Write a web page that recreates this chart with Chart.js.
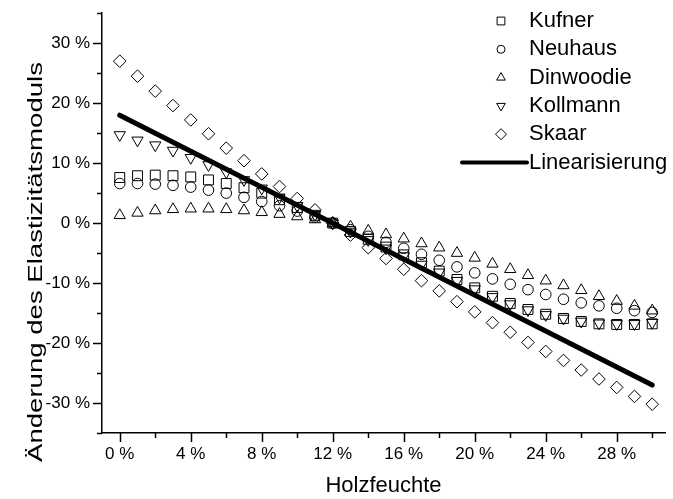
<!DOCTYPE html>
<html>
<head>
<meta charset="utf-8">
<script src="https://cdn.jsdelivr.net/npm/chart.js@4.4.1/dist/chart.umd.min.js"></script>
<style>
  html, body { margin: 0; padding: 0; background: #fff; }
  canvas { display: block; }
</style>
</head>
<body>
<canvas id="chart" width="673" height="499"></canvas>
<script>
// Holzfeuchte in %
const moisture = [0, 1, 2, 3, 4, 5, 6, 7, 8, 9, 10, 11, 12, 13, 14, 15, 16, 17, 18, 19, 20, 21, 22, 23, 24, 25, 26, 27, 28, 29, 30];

// Änderung des E-Moduls in %
const kufner = [7.6, 7.9, 8.0, 7.9, 7.7, 7.2, 6.6, 5.9, 5.0, 3.9, 2.6, 1.3, 0, -1.4, -2.7, -4.0, -5.3, -6.6, -8.0, -9.4, -10.8, -12.2, -13.4, -14.4, -15.2, -15.9, -16.4, -16.8, -16.9, -16.9, -16.8];
const neuhaus = [6.6, 6.6, 6.5, 6.3, 6.0, 5.5, 5.0, 4.3, 3.6, 2.9, 2.0, 1.0, 0, -1.1, -2.2, -3.2, -4.2, -5.2, -6.2, -7.3, -8.3, -9.3, -10.2, -11.1, -11.9, -12.7, -13.3, -13.8, -14.2, -14.6, -14.9];
const dinwoodie = [1.3, 1.7, 2.1, 2.3, 2.4, 2.4, 2.3, 2.1, 1.8, 1.5, 1.1, 0.6, 0, -0.6, -1.3, -1.9, -2.6, -3.4, -4.1, -5.0, -5.8, -6.8, -7.7, -8.7, -9.6, -10.4, -11.2, -12.2, -13.0, -13.8, -14.6];
const kollmann = [14.7, 13.8, 13.0, 12.1, 10.9, 9.7, 8.5, 7.2, 5.8, 4.3, 2.9, 1.4, 0, -1.4, -2.8, -4.2, -5.5, -6.9, -8.2, -9.6, -11.0, -12.3, -13.5, -14.5, -15.3, -15.9, -16.4, -16.7, -16.8, -16.8, -16.6];
const skaar = [27.0, 24.5, 22.0, 19.6, 17.2, 14.9, 12.5, 10.4, 8.2, 6.1, 4.1, 2.2, 0, -2.0, -4.1, -5.9, -7.7, -9.6, -11.3, -13.1, -14.8, -16.6, -18.2, -19.9, -21.4, -22.9, -24.5, -26.0, -27.4, -28.9, -30.2];

// Linearisierung (Endpunkte)
const linX = [0, 30];
const linY = [18, -27];

// Achsenteilung
const xMajorTicks = [0, 4, 8, 12, 16, 20, 24, 28];
const xMinorTicks = [2, 6, 10, 14, 18, 22, 26, 30];
const yMajorTicks = [-30, -20, -10, 0, 10, 20, 30];
const yMinorTicks = [-35, -25, -15, -5, 5, 15, 25, 35];

const FONT = '"Liberation Sans", Arial, sans-serif';

const toPoints = (xs, ys) => xs.map((x, i) => ({ x: x, y: ys[i] }));

const markerSeries = [
  { label: 'Kufner', data: kufner, style: 'rect', radius: 7, rotation: 0, legendRadius: 5.5 },
  { label: 'Neuhaus', data: neuhaus, style: 'circle', radius: 5.3, rotation: 0, legendRadius: 4 },
  { label: 'Dinwoodie', data: dinwoodie, style: 'triangle', radius: 6.5, rotation: 0, legendRadius: 5 },
  { label: 'Kollmann', data: kollmann, style: 'triangle', radius: 6.5, rotation: 180, legendRadius: 5 },
  { label: 'Skaar', data: skaar, style: 'rectRot', radius: 6.3, rotation: 0, legendRadius: 5.5 }
];

const datasets = markerSeries.map((s, i) => ({
  type: 'scatter',
  label: s.label,
  data: toPoints(moisture, s.data),
  pointStyle: s.style,
  pointRadius: s.radius,
  pointRotation: s.rotation,
  pointBorderWidth: 1,
  borderColor: '#000',
  backgroundColor: 'rgba(0,0,0,0)',
  pointBackgroundColor: 'rgba(0,0,0,0)',
  showLine: false,
  order: i + 1
}));

datasets.push({
  type: 'line',
  label: 'Linearisierung',
  data: toPoints(linX, linY),
  borderColor: '#000',
  borderWidth: 5,
  borderCapStyle: 'round',
  pointRadius: 0,
  fill: false,
  order: 0
});

// Haupt- und Nebenstriche nach außen
const tickMarks = {
  id: 'tickMarks',
  afterDraw(chart) {
    const { ctx, scales: { x, y } } = chart;
    ctx.save();
    ctx.strokeStyle = '#000';
    ctx.lineWidth = 1.5;
    const drawX = (vals, len) => vals.forEach(v => {
      const px = Math.round(x.getPixelForValue(v)) + 0.5;
      ctx.beginPath(); ctx.moveTo(px, y.bottom); ctx.lineTo(px, y.bottom + len); ctx.stroke();
    });
    const drawY = (vals, len) => vals.forEach(v => {
      const py = Math.round(y.getPixelForValue(v)) + 0.5;
      ctx.beginPath(); ctx.moveTo(x.left, py); ctx.lineTo(x.left - len, py); ctx.stroke();
    });
    drawX(xMajorTicks, 9); drawX(xMinorTicks, 5);
    drawY(yMajorTicks, 9); drawY(yMinorTicks, 5);
    ctx.restore();
  }
};

// Y-Achsentitel (im Original gestreckt gesetzt)
const yTitle = {
  id: 'yTitle',
  afterDraw(chart) {
    const ctx = chart.ctx;
    const text = 'Änderung des Elastizitätsmoduls';
    ctx.save();
    ctx.font = '21px ' + FONT;
    ctx.fillStyle = '#000';
    ctx.textAlign = 'center';
    ctx.textBaseline = 'middle';
    const w = ctx.measureText(text).width;
    ctx.translate(36, 262);
    ctx.rotate(-Math.PI / 2);
    ctx.scale(400 / w, 1);
    ctx.fillText(text, 0, 0);
    ctx.restore();
  }
};

// Legende oben rechts im Diagramm
const innerLegend = {
  id: 'innerLegend',
  afterDraw(chart) {
    const ctx = chart.ctx;
    const symX = 501, textX = 529, top = 21, step = 28.3;
    ctx.save();
    ctx.font = '22px ' + FONT;
    ctx.fillStyle = '#000';
    ctx.textBaseline = 'middle';
    ctx.textAlign = 'left';
    markerSeries.forEach((s, i) => {
      const yy = top + i * step;
      ctx.save();
      ctx.strokeStyle = '#000';
      ctx.fillStyle = 'rgba(0,0,0,0)';
      ctx.lineWidth = 1;
      Chart.helpers.drawPoint(ctx, { pointStyle: s.style, radius: s.legendRadius, rotation: s.rotation, borderWidth: 1 }, symX, yy);
      ctx.restore();
      ctx.fillText(s.label, textX, yy);
    });
    const ly = top + markerSeries.length * step;
    ctx.strokeStyle = '#000';
    ctx.lineWidth = 4;
    ctx.lineCap = 'round';
    ctx.beginPath(); ctx.moveTo(462, ly); ctx.lineTo(527, ly); ctx.stroke();
    ctx.fillText('Linearisierung', textX, ly);
    ctx.restore();
  }
};

new Chart(document.getElementById('chart'), {
  type: 'scatter',
  data: { datasets },
  options: {
    responsive: false,
    animation: false,
    layout: { padding: { top: 11, right: 0, bottom: 0, left: 0 } },
    plugins: { legend: { display: false }, tooltip: { enabled: false } },
    scales: {
      x: {
        type: 'linear',
        min: -1,
        max: 30.72,
        afterBuildTicks: s => { s.ticks = xMajorTicks.map(v => ({ value: v })); },
        afterFit: s => { s.height = 66; },
        grid: { display: true, drawOnChartArea: false, drawTicks: true, tickLength: 9, color: 'rgba(0,0,0,0)' },
        border: { display: true, color: '#000', width: 1.5 },
        ticks: { color: '#000', font: { family: FONT, size: 17 }, padding: 2, maxRotation: 0, callback: v => v + ' %' },
        title: { display: true, text: 'Holzfeuchte', color: '#000', font: { family: FONT, size: 22 }, padding: { top: 4, bottom: 0 } }
      },
      y: {
        type: 'linear',
        min: -35,
        max: 35,
        afterBuildTicks: s => { s.ticks = yMajorTicks.map(v => ({ value: v })); },
        afterFit: s => { s.width = 102; },
        grid: { display: true, drawOnChartArea: false, drawTicks: true, tickLength: 9, color: 'rgba(0,0,0,0)' },
        border: { display: true, color: '#000', width: 1.5 },
        ticks: { color: '#000', font: { family: FONT, size: 17 }, padding: 3, callback: v => v + ' %' },
        title: { display: false }
      }
    }
  },
  plugins: [tickMarks, yTitle, innerLegend]
});
</script>
</body>
</html>
